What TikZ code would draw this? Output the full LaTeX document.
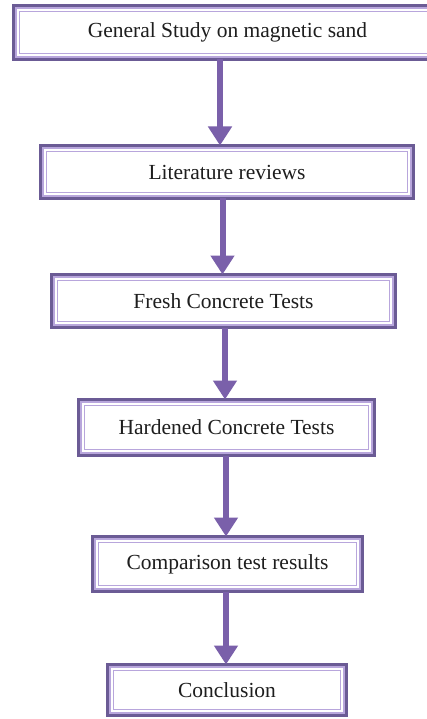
\documentclass[tikz,border=0pt]{standalone}
\usepackage{fontspec}
\setmainfont{Liberation Serif}
\usetikzlibrary{arrows.meta}
\definecolor{boxdark}{HTML}{6B5B95}
\definecolor{boxlight}{HTML}{B8A6DC}
\definecolor{arrowc}{HTML}{7A60AA}
\definecolor{txt}{HTML}{1E1E1E}
\tikzset{
  flowbox/.style={draw=boxdark, line width=3.5pt, fill=white, outer sep=0pt, inner sep=0pt,
    text=txt, font=\fontsize{21.5}{24}\selectfont,
    path picture={
      \draw[boxlight, line width=2pt]
        ([shift={(2.75pt,2.75pt)}]path picture bounding box.south west) rectangle
        ([shift={(-2.75pt,-2.75pt)}]path picture bounding box.north east);
      \draw[boxlight, line width=1pt]
        ([shift={(6pt,6pt)}]path picture bounding box.south west) rectangle
        ([shift={(-6pt,-6pt)}]path picture bounding box.north east);
    }},
  flow/.style={draw=arrowc, line width=6pt, -{Triangle[width=23pt,length=19pt]}}
}
\begin{document}
\begin{tikzpicture}[x=1pt,y=-1pt]
\clip (0,0) rectangle (427,719);
\fill[white] (0,0) rectangle (427,719);
\node[flowbox, minimum width=428pt, minimum height=54pt] (b1) at (227.5,32.5) {General Study on magnetic sand};
\node[flowbox, minimum width=373pt, minimum height=53pt] (b2) at (227,172) {Literature reviews};
\node[flowbox, minimum width=344pt, minimum height=53pt] (b3) at (223.5,301) {Fresh Concrete Tests};
\node[flowbox, minimum width=296pt, minimum height=56pt] (b4) at (226.5,427.5) {Hardened Concrete Tests};
\node[flowbox, minimum width=270pt, minimum height=55pt] (b5) at (227.5,564) {Comparison test results};
\node[flowbox, minimum width=239pt, minimum height=51pt] (b6) at (227,690) {Conclusion};
\draw[flow] ([xshift=-7.5pt]b1.south) -- ([xshift=-7.5pt]b1.south |- b2.north);
\draw[flow] ([xshift=-4.5pt]b2.south) -- ([xshift=-4.5pt]b2.south |- b3.north);
\draw[flow] ([xshift=1.5pt]b3.south) -- ([xshift=1.5pt]b3.south |- b4.north);
\draw[flow] ([xshift=-0.5pt]b4.south) -- ([xshift=-0.5pt]b4.south |- b5.north);
\draw[flow] ([xshift=-1.5pt]b5.south) -- ([xshift=-1.5pt]b5.south |- b6.north);
\end{tikzpicture}
\end{document}
